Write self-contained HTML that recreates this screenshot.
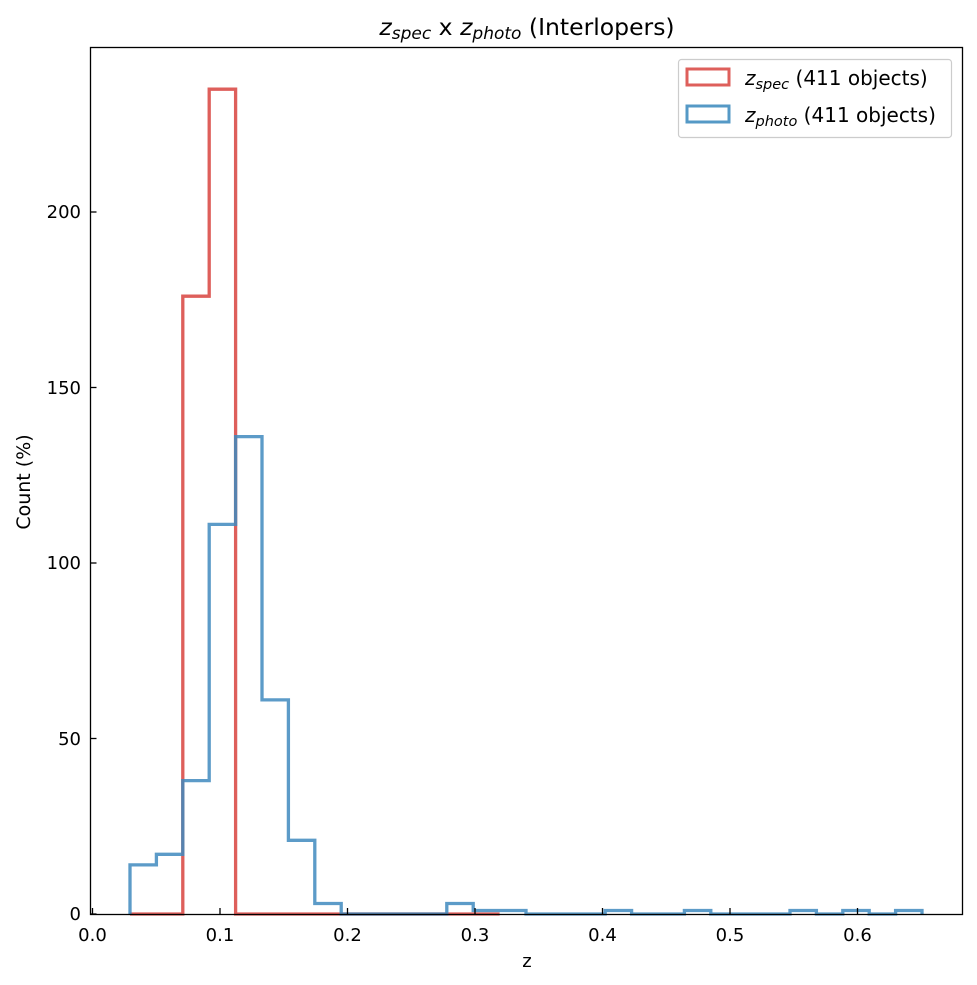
<!DOCTYPE html>
<html><head><style>body{margin:0;background:#fff}svg{display:block}text{font-family:"DejaVu Sans","Liberation Sans",sans-serif}</style></head>
<body>
<svg width="977" height="985" viewBox="0 0 977 985" xmlns="http://www.w3.org/2000/svg">
<rect width="977" height="985" fill="#fff"/>
<path fill="none" stroke="#de5f5b" stroke-width="3.3" d="M130,914 H182.8 V296.2 H209.2 V89.2 H235.6 V914 H499.6"/>
<path fill="none" stroke="rgba(64,138,190,0.85)" stroke-width="3.3" d="M130,914 V864.9 H156.4 V854.3 H182.8 V780.6 H209.2 V524.4 H235.6 V436.6 H262 V699.9 H288.4 V840.3 H314.8 V903.5 H341.2 V914 H446.8 V903.5 H473.2 V910.5 H526 V914 H605.2 V910.5 H631.6 V914 H684.4 V910.5 H710.8 V914 H790 V910.5 H816.4 V914 H842.8 V910.5 H869.2 V914 H895.6 V910.5 H922 V914"/>
<rect x="90.5" y="47.5" width="872" height="867" fill="none" stroke="#000" stroke-width="1.3"/>
<g stroke="#000" stroke-width="1.3">
<line x1="92.5" y1="914" x2="92.5" y2="908"/><line x1="220" y1="914" x2="220" y2="908"/><line x1="347.5" y1="914" x2="347.5" y2="908"/><line x1="475" y1="914" x2="475" y2="908"/><line x1="602.5" y1="914" x2="602.5" y2="908"/><line x1="730" y1="914" x2="730" y2="908"/><line x1="857.5" y1="914" x2="857.5" y2="908"/>
<line x1="90.5" y1="914" x2="96.5" y2="914"/><line x1="90.5" y1="738.5" x2="96.5" y2="738.5"/><line x1="90.5" y1="563" x2="96.5" y2="563"/><line x1="90.5" y1="387.5" x2="96.5" y2="387.5"/><line x1="90.5" y1="212" x2="96.5" y2="212"/>
</g>
<g font-size="18" text-anchor="middle" fill="#000">
<text x="92.5" y="941">0.0</text><text x="220" y="941">0.1</text><text x="347.5" y="941">0.2</text><text x="475" y="941">0.3</text><text x="602.5" y="941">0.4</text><text x="730" y="941">0.5</text><text x="857.5" y="941">0.6</text>
<text x="527" y="967">z</text>
</g>
<g font-size="18" text-anchor="end" fill="#000">
<text x="81" y="920">0</text><text x="81" y="745">50</text><text x="81" y="569">100</text><text x="81" y="394">150</text><text x="81" y="218">200</text>
</g>
<text transform="translate(30,482) rotate(-90)" font-size="19" text-anchor="middle">Count (%)</text>
<text x="527" y="35" font-size="23.5" text-anchor="middle"><tspan font-style="italic">z</tspan><tspan font-style="italic" font-size="17" dy="4">spec</tspan><tspan dy="-4"> x </tspan><tspan font-style="italic">z</tspan><tspan font-style="italic" font-size="17" dy="4">photo</tspan><tspan dy="-4"> (Interlopers)</tspan></text>
<rect x="678.5" y="59.5" width="273" height="78" rx="3" fill="#fff" stroke="#ccc" stroke-width="1.2"/>
<rect x="687" y="69" width="42" height="16" fill="none" stroke="#de5f5b" stroke-width="3"/>
<rect x="687" y="106" width="42" height="16" fill="none" stroke="#5599c6" stroke-width="3"/>
<text x="745" y="85" font-size="20"><tspan font-style="italic">z</tspan><tspan font-style="italic" font-size="14.5" dy="4">spec</tspan><tspan dy="-4"> (411 objects)</tspan></text>
<text x="745" y="122" font-size="20"><tspan font-style="italic">z</tspan><tspan font-style="italic" font-size="14.5" dy="4">photo</tspan><tspan dy="-4"> (411 objects)</tspan></text>
</svg>
</body></html>
